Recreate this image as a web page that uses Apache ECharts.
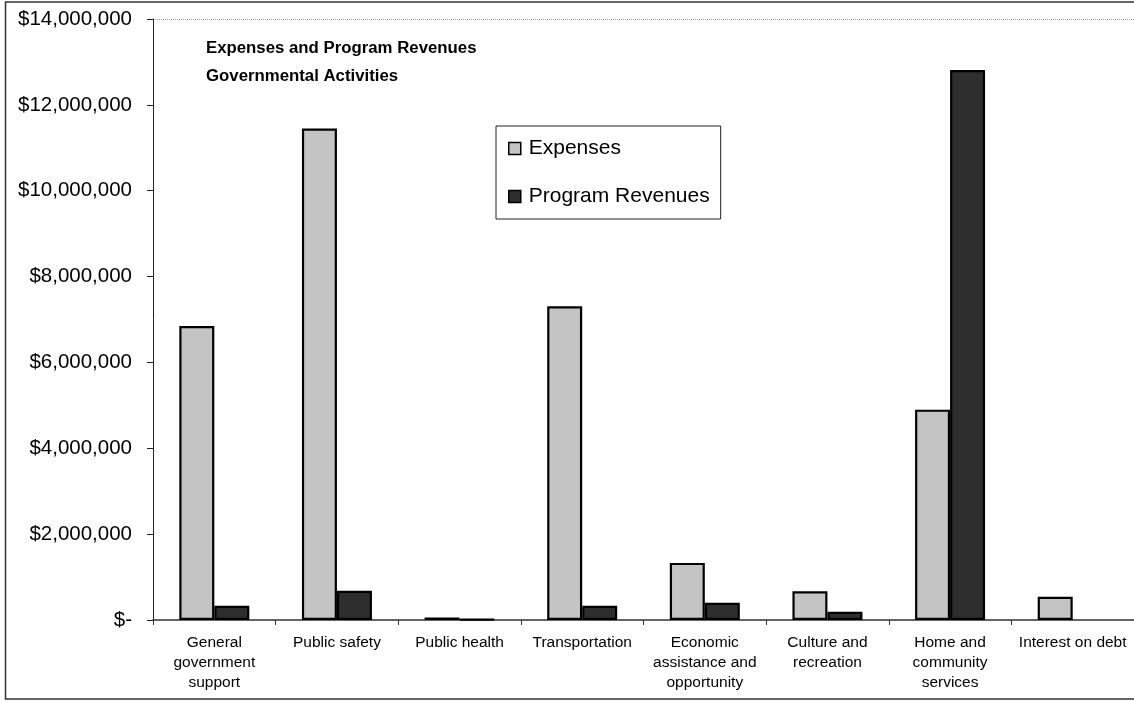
<!DOCTYPE html>
<html>
<head>
<meta charset="utf-8">
<script src="https://cdn.jsdelivr.net/npm/echarts@6/dist/echarts.min.js"></script>
<style>
html,body{margin:0;padding:0;background:#fff;}
#chart{width:1134px;height:702px;}
</style>
</head>
<body>
<div id="chart"></div>
<script>
var categories = [
  'General\ngovernment\nsupport',
  'Public safety',
  'Public health',
  'Transportation',
  'Economic\nassistance and\nopportunity',
  'Culture and\nrecreation',
  'Home and\ncommunity\nservices',
  'Interest on debt'
];
var expenses = [6850000, 11450000, 60000, 7310000, 1330000, 670000, 4900000, 540000];
var programRevenues = [330000, 680000, 15000, 330000, 400000, 190000, 12810000, null];
var yMin = 0, yMax = 14000000, yInterval = 2000000;
var titleLines = ['Expenses and Program Revenues', 'Governmental Activities'];

var FONT = '"Liberation Sans", Arial, sans-serif';

function money(v) {
  if (v === 0) return '$-';
  return '$' + v.toLocaleString('en-US');
}

var chart = echarts.init(document.getElementById('chart'), null, {renderer: 'canvas'});
chart.setOption({
  backgroundColor: '#fff',
  animation: false,
  textStyle: {fontFamily: FONT},
  title: {
    text: titleLines.join('\n'),
    left: 206,
    top: 34,
    padding: 0,
    textStyle: {fontFamily: FONT, fontSize: 16.8, fontWeight: 'bold', color: '#000', lineHeight: 28}
  },
  legend: {
    orient: 'vertical',
    left: 496,
    top: 126,
    padding: [12, 11, 12, 12],
    itemGap: 27,
    itemWidth: 12,
    itemHeight: 12,
    backgroundColor: '#fff',
    borderColor: '#222',
    borderWidth: 1,
    icon: 'rect',
    itemStyle: {borderColor: '#000', borderWidth: 1.5},
    textStyle: {fontFamily: FONT, fontSize: 21, color: '#000', lineHeight: 21, padding: [0, 0, 0, 3]},
    data: ['Expenses', 'Program Revenues']
  },
  grid: {left: 153, top: 19, bottom: 82, width: 985, containLabel: false},
  xAxis: {
    type: 'category',
    data: categories,
    axisLine: {lineStyle: {color: '#333', width: 1.5}},
    axisTick: {show: true, length: 5, lineStyle: {color: '#333'}},
    axisLabel: {interval: 0, margin: 13, fontFamily: FONT, fontSize: 15.5, color: '#000', lineHeight: 20}
  },
  yAxis: {
    type: 'value',
    min: yMin,
    max: yMax,
    interval: yInterval,
    axisLine: {show: true, lineStyle: {color: '#222', width: 1}},
    axisTick: {show: true, inside: false, length: 6, lineStyle: {color: '#222'}},
    axisLabel: {formatter: money, margin: 21, fontFamily: FONT, fontSize: 20.5, color: '#000'},
    splitLine: {
      show: true,
      lineStyle: {
        type: 'dotted',
        width: 1,
        color: ['rgba(0,0,0,0)', 'rgba(0,0,0,0)', 'rgba(0,0,0,0)', 'rgba(0,0,0,0)',
                'rgba(0,0,0,0)', 'rgba(0,0,0,0)', 'rgba(0,0,0,0)', '#999']
      }
    }
  },
  series: [
    {
      name: 'Expenses',
      type: 'bar',
      data: expenses,
      barWidth: 35,
      barGap: '0%',
      itemStyle: {color: '#c4c4c4', borderColor: '#000', borderWidth: 2.2}
    },
    {
      name: 'Program Revenues',
      type: 'bar',
      data: programRevenues,
      barWidth: 35,
      barGap: '0%',
      itemStyle: {color: '#2e2e2e', borderColor: '#000', borderWidth: 2.2}
    }
  ],
  graphic: [
    {
      type: 'rect',
      silent: true,
      z: 100,
      shape: {x: 5.5, y: 2, width: 1140, height: 697},
      style: {fill: 'none', stroke: '#333', lineWidth: 1.5}
    }
  ]
});
</script>
</body>
</html>
